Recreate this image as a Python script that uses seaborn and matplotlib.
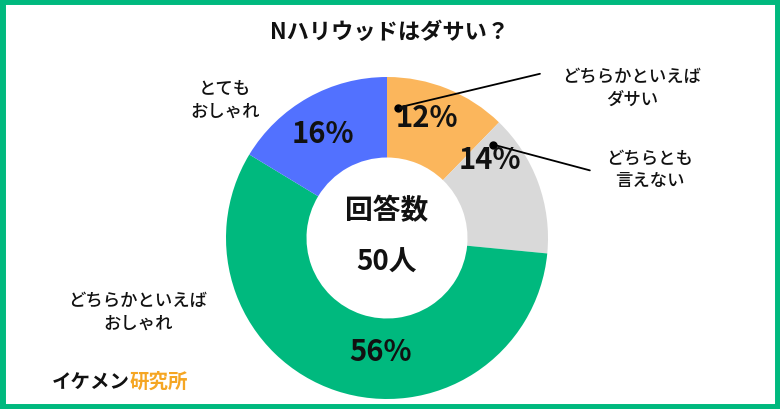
import matplotlib
matplotlib.use("Agg")
import matplotlib.pyplot as plt
import seaborn as sns
from matplotlib.patches import Rectangle

sns.set_theme(style="white")
plt.rcParams['font.family'] = ['Noto Sans CJK JP', 'DejaVu Sans']

categories = ["どちらかといえば\nダサい", "どちらとも\n言えない", "どちらかといえば\nおしゃれ", "とても\nおしゃれ"]
values = [12, 14, 56, 16]
colors = ["#FBB65C", "#D9D9D9", "#00B97E", "#5271FF"]

fig = plt.figure(figsize=(7.8, 4.1), dpi=100)
fig.patch.set_facecolor("white")
fig.patches.append(Rectangle((0.003, 0.005), 0.994, 0.99, transform=fig.transFigure,
                             fill=False, edgecolor="#00B97E", linewidth=5))

cx, cy, R = 387, 239, 161
ax = fig.add_axes([(cx - R) / 780, (410 - cy - R) / 410, 2 * R / 780, 2 * R / 410])
wedges, _ = ax.pie(values, colors=colors, startangle=90, counterclock=False,
                   radius=1.0, wedgeprops=dict(width=0.5, edgecolor="white", linewidth=0))
ax.set_xlim(-1, 1); ax.set_ylim(-1, 1); ax.set_aspect("equal"); ax.axis("off")

pct_pos = [(0.25, 0.75), (0.64, 0.49), (-0.04, -0.70), (-0.40, 0.65)]
for v, (x, y) in zip(values, pct_pos):
    ax.text(x, y, f"{v}%", ha="center", va="center", fontsize=21, fontweight="bold", color="#111")

ax.text(0, 0.17, "回答数", ha="center", va="center", fontsize=20, fontweight="bold", color="#111")
ax.text(0, -0.15, "50人", ha="center", va="center", fontsize=20, fontweight="bold", color="#111")

ax.plot([0.07, 0.95], [0.81, 1.02], color="black", lw=1.3, clip_on=False)
ax.plot([0.07], [0.81], "o", color="black", ms=5, clip_on=False)
ax.plot([0.66, 1.26], [0.58, 0.42], color="black", lw=1.3, clip_on=False)
ax.plot([0.66], [0.58], "o", color="black", ms=5, clip_on=False)

fig.text(390 / 780, 378 / 410, "Nハリウッドはダサい？", ha="center", va="center", fontsize=16, fontweight="bold", color="#111")
kw = dict(ha="center", va="center", fontsize=12.5, fontweight="medium", color="#111", linespacing=1.35)
fig.text(632 / 780, 322 / 410, categories[0], **kw)
fig.text(650 / 780, 240 / 410, categories[1], **kw)
fig.text(138 / 780, 98 / 410, categories[2], **kw)
fig.text(225 / 780, 310 / 410, categories[3], **kw)

t1 = fig.text(52 / 780, 28 / 410, "イケメン", ha="left", va="center", fontsize=14, fontweight="bold", color="#111")
fig.canvas.draw()
bb = t1.get_window_extent()
fig.text(bb.x1 / 780, 28 / 410, "研究所", ha="left", va="center", fontsize=14, fontweight="bold", color="#F5A623")

fig.savefig("out.png", dpi=100, facecolor="white")
